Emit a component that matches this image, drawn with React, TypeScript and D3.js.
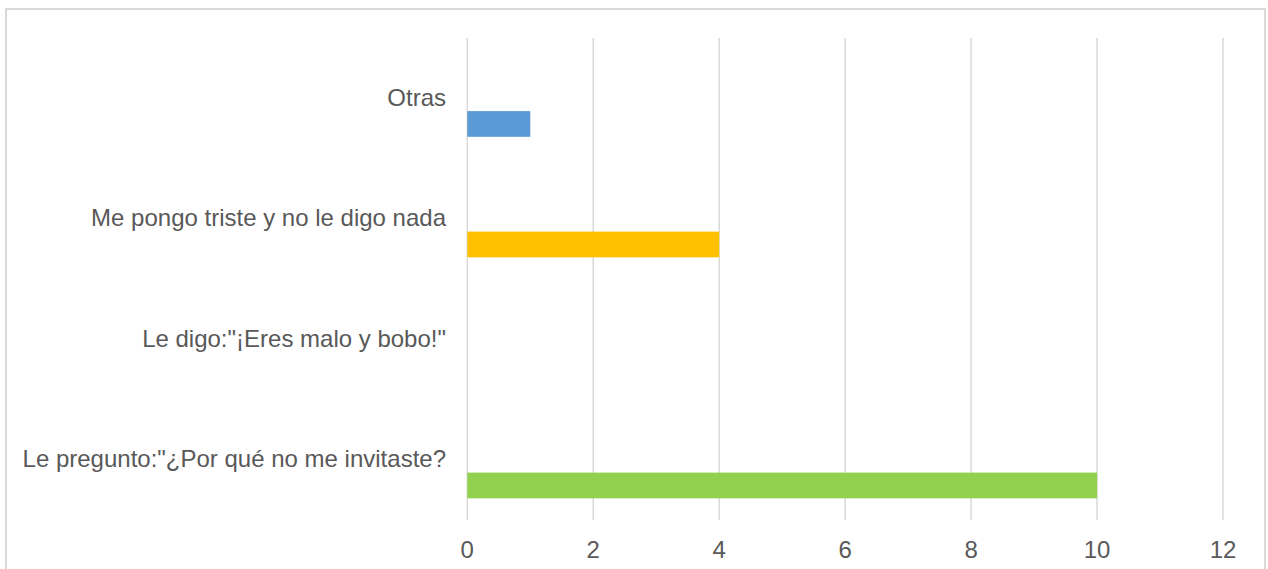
import React, { useEffect, useRef } from "react";
import * as d3 from "d3";

const categories = [
  "Otras",
  "Me pongo triste y no le digo nada",
  'Le digo:"¡Eres malo y bobo!"',
  'Le pregunto:"¿Por qué no me invitaste?',
];
const values = [1, 4, 0, 10];
const colors = ["#5B9BD5", "#FFC000", "#A5A5A5", "#92D050"];
const xTicks = [0, 2, 4, 6, 8, 10, 12];
const seriesSlots = ["a", "b", "c"];

export default function App() {
  const ref = useRef<SVGSVGElement>(null);
  useEffect(() => {
    const svg = d3.select(ref.current);
    svg.selectAll("*").remove();
    const H = 569;
    const left = 467.3, right = 1223, top = 38, bottom = 520;
    const font = "'Liberation Sans', Arial, sans-serif";
    const textColor = "#595959";

    svg.append("rect")
      .attr("x", 6).attr("y", 9).attr("width", 1259).attr("height", H + 20)
      .attr("fill", "#fff").attr("stroke", "#d9d9d9").attr("stroke-width", 2);

    const x = d3.scaleLinear().domain([0, 12]).range([left, right]);
    const y = d3.scaleBand<string>().domain(categories).range([top, bottom]).padding(0);
    const gap = 0.18;
    const inner = d3.scaleBand<string>().domain(seriesSlots)
      .range([y.bandwidth() * gap, y.bandwidth() * (1 - gap)]);

    svg.append("g").selectAll("line").data(xTicks).join("line")
      .attr("x1", d => x(d)).attr("x2", d => x(d))
      .attr("y1", top).attr("y2", bottom)
      .attr("stroke", "#d9d9d9").attr("stroke-width", 1.5);

    svg.append("g").selectAll("rect").data(categories).join("rect")
      .attr("x", x(0))
      .attr("y", d => (y(d) as number) + (inner("c") as number))
      .attr("width", (d, i) => x(values[i]) - x(0))
      .attr("height", inner.bandwidth())
      .attr("fill", (d, i) => colors[i]);

    svg.append("g").selectAll("text").data(categories).join("text")
      .attr("x", 446)
      .attr("y", d => (y(d) as number) + y.bandwidth() / 2 - 1)
      .attr("text-anchor", "end")
      .attr("dominant-baseline", "central")
      .attr("font-family", font).attr("font-size", 24)
      .attr("fill", textColor)
      .text(d => d);

    svg.append("g").selectAll("text").data(xTicks).join("text")
      .attr("x", d => x(d))
      .attr("y", 549)
      .attr("text-anchor", "middle")
      .attr("dominant-baseline", "central")
      .attr("font-family", font).attr("font-size", 24)
      .attr("fill", textColor)
      .text(d => String(d));
  }, []);
  return (
    <svg ref={ref} width={1268} height={569}
      style={{ position: "absolute", left: 0, top: 0, background: "#fff" }} />
  );
}
